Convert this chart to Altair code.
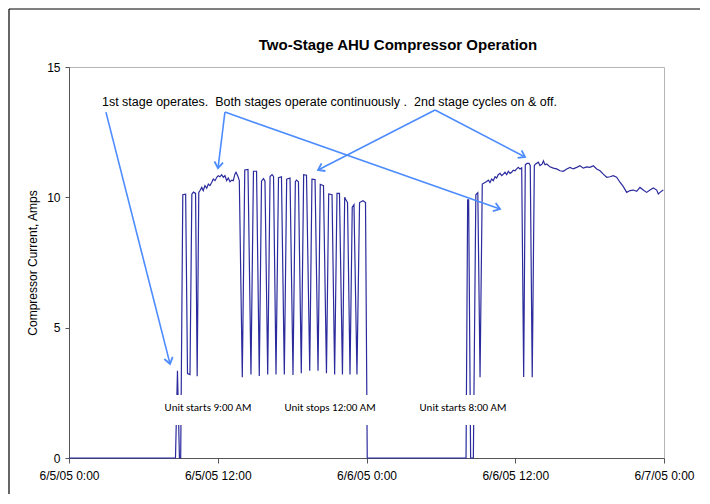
import json
import math
import altair as alt
import pandas as pd

# ---------------- data (hours after 6/5/05 0:00, compressor current in amps) -------------
HOURS = [
    0.00, 8.59, 8.75, 8.91, 9.01, 9.18, 9.41, 9.56, 9.76, 9.91, 10.04, 10.21, 10.34, 10.47,
    10.57, 10.71, 10.83, 10.97, 11.11, 11.24, 11.37, 11.51, 11.64, 11.78, 11.92, 12.04, 12.18,
    12.32, 12.45, 12.58, 12.72, 12.85, 12.99, 13.13, 13.25, 13.39, 13.47, 13.61, 13.74,
    13.98, 14.18, 14.44, 14.68, 14.88, 15.13, 15.35, 15.53, 15.69, 15.81, 16.03, 16.22, 16.38,
    16.50, 16.70, 16.90, 17.14, 17.37, 17.56, 17.83, 18.07, 18.26, 18.35, 18.51, 18.74, 18.93,
    19.16, 19.42, 19.60, 19.85, 20.09, 20.27, 20.53, 20.77, 20.95, 21.22, 21.43, 21.62, 21.82,
    22.06, 22.24, 22.35, 22.47, 22.67, 22.85, 22.99, 23.23, 23.44, 23.72, 23.92, 24.06,
    32.03, 32.16, 32.24, 32.40, 32.62, 32.82, 32.98, 33.16, 33.34, 33.56, 33.70, 33.83, 33.96,
    34.10, 34.23, 34.37, 34.50, 34.63, 34.77, 34.91, 35.04, 35.17, 35.31, 35.44, 35.58, 35.71,
    35.84, 35.98, 36.12, 36.24, 36.38, 36.52, 36.68, 36.81, 36.95, 37.11, 37.21, 37.37, 37.54,
    37.65, 37.86, 38.00, 38.18, 38.27, 38.40, 38.54, 38.80, 39.07, 39.34, 39.61, 39.88, 40.15,
    40.42, 40.68, 40.96, 41.22, 41.49, 41.76, 42.03, 42.30, 42.57, 42.84, 43.10, 43.38, 43.64,
    43.91, 44.18, 44.45, 44.72, 44.99, 45.26, 45.52, 45.80, 46.06, 46.33, 46.60, 46.87, 47.14,
    47.41, 47.54, 47.68, 47.94,
]
AMPS = [
    0, 0, 3.35, 0, 0, 10.10, 10.12, 3.24, 3.20, 10.12, 10.20, 10.15, 3.14, 10.19,
    10.26, 10.38, 10.26, 10.45, 10.35, 10.51, 10.45, 10.57, 10.70, 10.64, 10.77, 10.83, 10.79,
    10.87, 10.77, 10.83, 10.64, 10.74, 10.60, 10.66, 10.64, 10.90, 10.96, 10.83, 10.64,
    3.10, 11.05, 11.07, 3.20, 11.00, 11.00, 3.15, 10.62, 10.72, 10.62, 3.20, 10.80, 10.87,
    10.80, 3.20, 10.75, 10.79, 3.20, 10.70, 10.74, 3.18, 10.60, 10.66, 10.60, 3.25, 10.87,
    10.85, 3.35, 10.70, 10.68, 3.35, 10.50, 10.45, 3.25, 10.13, 10.10, 3.20, 10.15, 10.15,
    3.20, 10.00, 9.90, 9.80, 3.20, 9.62, 9.72, 3.20, 9.80, 9.87, 9.80, 0,
    0, 9.90, 9.90, 0, 0, 10.10, 10.18, 3.10, 10.51, 10.57, 10.61, 10.66, 10.57,
    10.70, 10.64, 10.79, 10.74, 10.87, 10.92, 10.83, 10.89, 10.96, 10.87, 11.00, 10.92, 10.96,
    11.04, 11.02, 11.09, 11.15, 11.09, 11.13, 3.11, 11.25, 11.30, 11.30, 11.22, 3.10, 11.22,
    11.28, 11.35, 11.22, 11.28, 11.40, 11.25, 11.28, 11.17, 11.12, 11.09, 11.02, 11.00, 11.09,
    11.15, 11.09, 11.15, 11.21, 11.12, 11.17, 11.15, 11.21, 11.09, 11.02, 10.89, 10.77, 10.79,
    10.83, 10.77, 10.58, 10.41, 10.19, 10.26, 10.28, 10.23, 10.38, 10.28, 10.19, 10.28, 10.36,
    10.28, 10.13, 10.19, 10.28,
]

X_TICKS = [0, 12, 24, 36, 48]
X_LABELS = ["6/5/05 0:00", "6/5/05 12:00", "6/6/05 0:00", "6/6/05 12:00", "6/7/05 0:00"]
Y_TICKS = [0, 5, 10, 15]

TITLE = "Two-Stage AHU Compressor Operation"
Y_TITLE = "Compressor Current, Amps"
NOTE = "1st stage operates.  Both stages operate continuously .  2nd stage cycles on & off."
NOTE_H, NOTE_A = 2.66, 13.66

EVENT_TEXT = ["Unit starts 9:00 AM", "Unit stops 12:00 AM", "Unit starts 8:00 AM"]
EVENT_H = [11.21, 21.06, 31.78]
EVENT_A = 1.92
BOX_H1 = [7.34, 17.02, 27.91]
BOX_H2 = [15.17, 25.09, 35.74]
BOX_A1, BOX_A2 = 1.27, 2.42

ARROW_H1 = [2.98, 12.58, 12.58, 29.53, 29.53]
ARROW_A1 = [13.27, 13.27, 13.27, 13.35, 13.35]
ARROW_H2 = [8.15, 12.02, 34.77, 20.09, 36.79]
ARROW_A2 = [3.61, 11.12, 9.55, 11.05, 11.55]

# ---------------- layout / style ----------------
W, H = 595, 391
X_MAX, Y_MAX = 48, 15
FONT = "Liberation Sans, Arial, sans-serif"
LINE_COLOR = "#2b2b9e"
ARROW_COLOR = "#4d8cff"

df = pd.DataFrame({"h": HOURS, "a": AMPS})

xs = alt.Scale(domain=[0, X_MAX], nice=False, zero=False)
ys = alt.Scale(domain=[0, Y_MAX], nice=False)

label_expr = json.dumps(X_LABELS) + "[round(datum.value / 12)]"

x_axis = alt.Axis(values=X_TICKS, labelExpr=label_expr, title=None, grid=False,
                  domainColor="#555555", tickColor="#555555", tickSize=5,
                  labelFont=FONT, labelFontSize=12, labelColor="#000000",
                  labelPadding=7, labelFlush=False, labelOverlap=False)
y_axis = alt.Axis(values=Y_TICKS, title=Y_TITLE, grid=False,
                  domainColor="#555555", tickColor="#555555", tickSize=4,
                  labelFont=FONT, labelFontSize=12, labelColor="#000000", labelPadding=5,
                  titleFont=FONT, titleFontSize=12, titleFontWeight="normal", titleColor="#000000",
                  titleX=-37, titleY=H / 2, titleAngle=270, titleAlign="center",
                  titleBaseline="middle")

line = alt.Chart(df).mark_line(color=LINE_COLOR, strokeWidth=1.2).encode(
    x=alt.X("h:Q", scale=xs, axis=x_axis),
    y=alt.Y("a:Q", scale=ys, axis=y_axis),
    order="h:Q",
)

boxes_df = pd.DataFrame({"h1": BOX_H1, "h2": BOX_H2, "a1": [BOX_A1] * 3, "a2": [BOX_A2] * 3})
boxes = alt.Chart(boxes_df).mark_rect(color="white").encode(
    x=alt.X("h1:Q", scale=xs), x2="h2:Q", y=alt.Y("a1:Q", scale=ys), y2="a2:Q")

events_df = pd.DataFrame({"h": EVENT_H, "a": [EVENT_A] * 3, "t": EVENT_TEXT})
events = alt.Chart(events_df).mark_text(
    font="Carlito, Lato, sans-serif", fontSize=11, color="#000000", align="center",
    baseline="middle").encode(x=alt.X("h:Q", scale=xs), y=alt.Y("a:Q", scale=ys), text="t:N")

note_df = pd.DataFrame({"h": [NOTE_H], "a": [NOTE_A], "t": [NOTE.replace("  ", " \u00a0")]})
note = alt.Chart(note_df).mark_text(
    font=FONT, fontSize=12.5, color="#000000", align="left", baseline="middle").encode(
    x=alt.X("h:Q", scale=xs), y=alt.Y("a:Q", scale=ys), text="t:N")

angles = []
for h1, a1, h2, a2 in zip(ARROW_H1, ARROW_A1, ARROW_H2, ARROW_A2):
    dx = (h2 - h1) * W / X_MAX
    dy = -(a2 - a1) * H / Y_MAX
    angles.append(math.degrees(math.atan2(dy, dx)) % 360)
arrows_df = pd.DataFrame({"h1": ARROW_H1, "a1": ARROW_A1, "h2": ARROW_H2, "a2": ARROW_A2,
                          "ang": angles})
shafts = alt.Chart(arrows_df).mark_rule(color=ARROW_COLOR, strokeWidth=1.6).encode(
    x=alt.X("h1:Q", scale=xs), y=alt.Y("a1:Q", scale=ys), x2="h2:Q", y2="a2:Q")
heads = alt.Chart(arrows_df).mark_point(
    shape="M -1 -0.7 L 0 0 L -1 0.7", filled=False, color=ARROW_COLOR, strokeWidth=1.8,
    size=150, opacity=1, strokeJoin="miter").encode(
    x=alt.X("h2:Q", scale=xs), y=alt.Y("a2:Q", scale=ys),
    angle=alt.Angle("ang:Q", scale=None))

title_df = pd.DataFrame({"t": [TITLE]})
title = alt.Chart(title_df).mark_text(
    font=FONT, fontSize=15, fontWeight="bold", color="#000000", align="center",
    baseline="middle").encode(x=alt.value(329), y=alt.value(-22), text="t:N")

frame_df = pd.DataFrame({"k": [0]})
frame_left = alt.Chart(frame_df).mark_rule(color="#000000", strokeWidth=1.2).encode(
    x=alt.value(-60), y=alt.value(-58), y2=alt.value(450))
frame_top = alt.Chart(frame_df).mark_rule(color="#000000", strokeWidth=1.2).encode(
    x=alt.value(-60), x2=alt.value(700), y=alt.value(-58))

chart = alt.layer(
    line, boxes, events, shafts, heads, note, title, frame_left, frame_top
).properties(
    width=W, height=H,
    autosize=alt.AutoSizeParams(type="none"),
    padding={"left": 61, "top": 59, "right": 36, "bottom": 36},
    background="white",
).configure_view(stroke="#b5b5b5", strokeWidth=1)

chart.save("out.html", embed_options={"renderer": "svg", "actions": False})
